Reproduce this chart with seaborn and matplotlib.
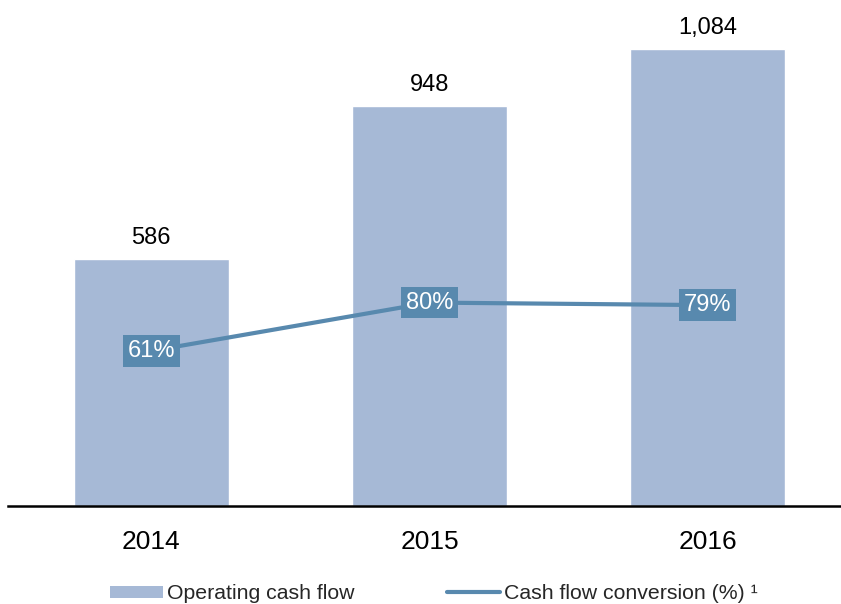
import matplotlib
matplotlib.use("Agg")
import matplotlib.pyplot as plt
import seaborn as sns
import pandas as pd
from matplotlib.patches import Patch
from matplotlib.lines import Line2D

years = ["2014", "2015", "2016"]
operating_cash_flow = [586, 948, 1084]
conversion_pct = [61, 80, 79]
value_labels = ["586", "948", "1,084"]
pct_labels = ["61%", "80%", "79%"]

BAR_COLOR = "#A6B9D6"
LINE_COLOR = "#5889AE"

sns.set_theme(style="white")
plt.rcParams["font.family"] = ["Liberation Sans", "DejaVu Sans"]

fig = plt.figure(figsize=(8.41, 6.04), dpi=100)
ax = fig.add_axes([8 / 841, 98 / 604, 833 / 841, 506 / 604])

df = pd.DataFrame({"year": years, "ocf": operating_cash_flow})
sns.barplot(data=df, x="year", y="ocf", color=BAR_COLOR, width=0.557,
            saturation=1, ax=ax)
ax.set_xlim(-0.515, 2.478)
ax.set_ylim(0, 1199)
ax.set_xlabel("")
ax.set_ylabel("")
ax.set_yticks([])
for s in ["top", "right", "left"]:
    ax.spines[s].set_visible(False)
ax.spines["bottom"].set_color("black")
ax.spines["bottom"].set_linewidth(1.8)
ax.tick_params(axis="x", length=0, pad=17, labelsize=19, colors="black")

for i, (v, lab) in enumerate(zip(operating_cash_flow, value_labels)):
    ax.annotate(lab, (i, v), xytext=(0, 7), textcoords="offset points",
                ha="center", va="bottom", fontsize=17, color="black")

ax2 = ax.twinx()
ax2.set_position(ax.get_position())
sns.lineplot(x=[0, 1, 2], y=conversion_pct, color=LINE_COLOR, linewidth=3,
             ax=ax2, legend=False)
ax2.set_ylim(0, 199)
ax2.set_yticks([])
for s in ["top", "right", "left", "bottom"]:
    ax2.spines[s].set_visible(False)
ax.set_xlim(-0.515, 2.478)

for i, (v, lab) in enumerate(zip(conversion_pct, pct_labels)):
    ax2.text(i, v, lab, ha="center", va="center", fontsize=17, color="white",
             bbox=dict(boxstyle="square,pad=0.2", facecolor=LINE_COLOR,
                       edgecolor="none"), zorder=5)

handles = [Patch(facecolor=BAR_COLOR, edgecolor="none"),
           Line2D([0], [0], color=LINE_COLOR, linewidth=3)]
labels = ["Operating cash flow", "Cash flow conversion (%) ¹"]
fig.legend(handles, labels, loc="center", bbox_to_anchor=(0.516, 0.017),
           ncol=2, frameon=False, fontsize=15.3, handlelength=2.5,
           handleheight=0.5, handletextpad=0.2, columnspacing=4.35)

fig.savefig("out.png", dpi=100)
